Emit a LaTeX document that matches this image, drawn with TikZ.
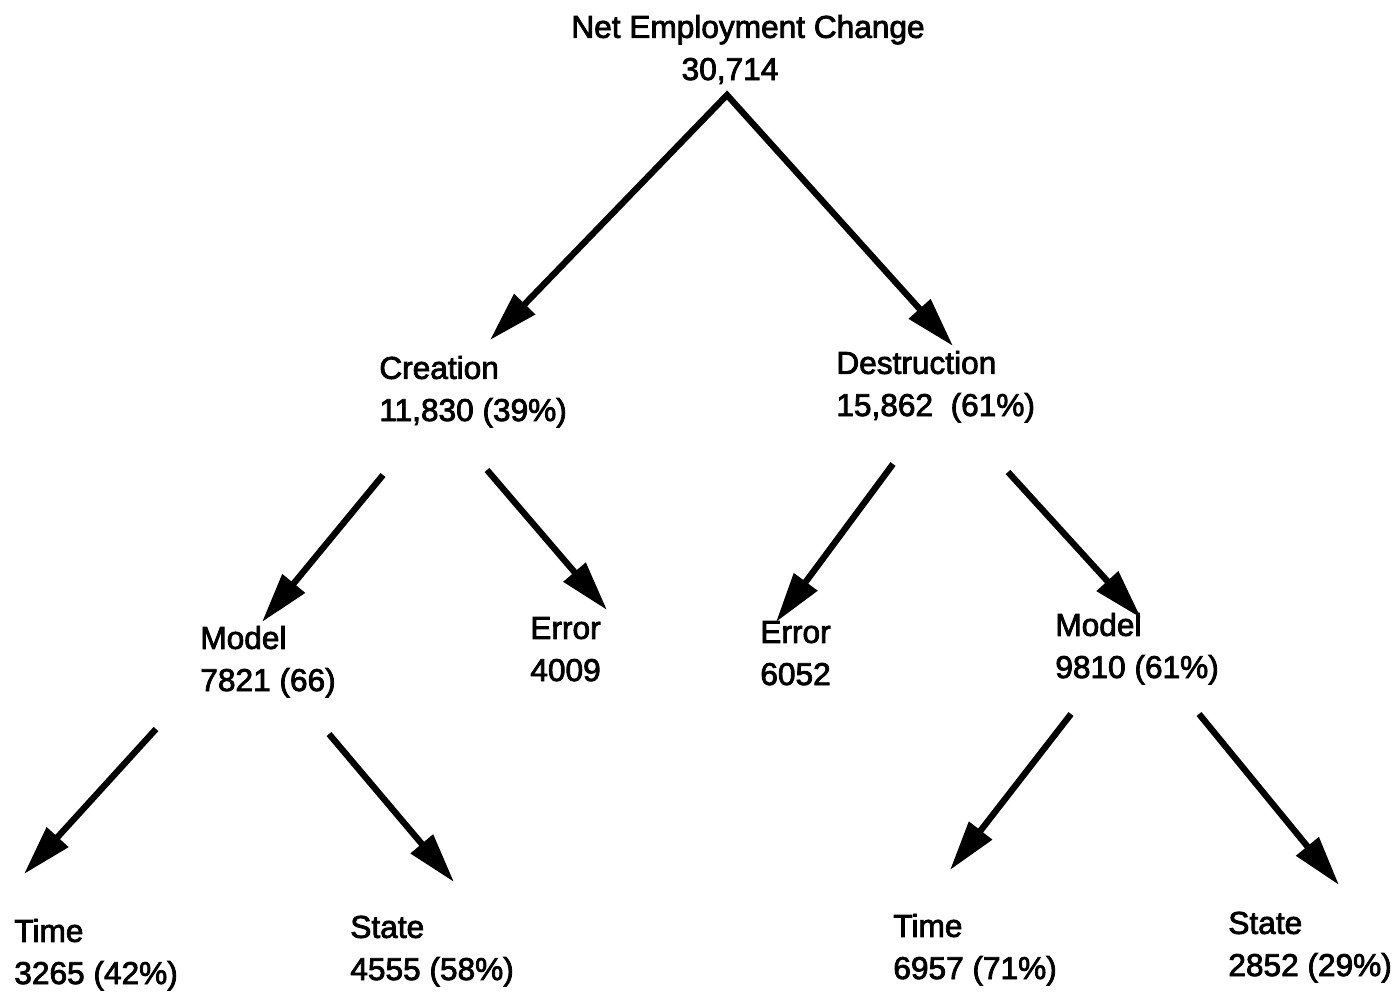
\documentclass[tikz,border=0pt]{standalone}
\usepackage{fontspec}
\setmainfont{Liberation Sans}
\newfontfamily\lblfont{Liberation Sans}[FakeBold=2.5]
\usetikzlibrary{arrows.meta}

\begin{document}
\begin{tikzpicture}[x=0.02cm, y=-0.02cm,
  >={Triangle[length=1cm, width=0.56cm]},
  lbl/.style={anchor=base west, align=left, inner sep=0pt, font=\lblfont\fontsize{18}{24}\selectfont},
  arr/.style={->, line width=3.6pt}]
  \useasboundingbox (0,0) rectangle (1398,992);

  % labels (placed at baseline of second line)
  \node[lbl, anchor=base, align=center] (net) at (748,80) {Net Employment Change\\30,714\hspace*{0.72cm}};
  \node[lbl] (creation) at (379,421) {Creation\\11,830 (39\%)};
  \node[lbl] (destruction) at (836,416) {Destruction\\15,862\ \ (61\%)};
  \node[lbl] (cmodel) at (200,691) {Model\\7821 (66)};
  \node[lbl] (cerror) at (530,681) {Error\\4009};
  \node[lbl] (derror) at (760,685) {Error\\6052};
  \node[lbl] (dmodel) at (1055,678) {Model\\9810 (61\%)};
  \node[lbl] (ctime) at (14,984) {Time\\3265 (42\%)};
  \node[lbl] (cstate) at (350,980) {State\\4555 (58\%)};
  \node[lbl] (dtime) at (893,979) {Time\\6957 (71\%)};
  \node[lbl] (dstate) at (1228,976) {State\\2852 (29\%)};

  % arrow ends
  \coordinate (top) at (727,95);
  \coordinate (cl) at (490,340);  \coordinate (cr) at (953,346);
  \coordinate (c1s) at (383,475); \coordinate (c1e) at (262,622);
  \coordinate (c2s) at (487,470); \coordinate (c2e) at (607,610);
  \coordinate (d1s) at (893,464); \coordinate (d1e) at (776,622);
  \coordinate (d2s) at (1008,472); \coordinate (d2e) at (1141,618);
  \coordinate (m1s) at (156,729); \coordinate (m1e) at (24,874);
  \coordinate (m2s) at (329,734); \coordinate (m2e) at (454,882);
  \coordinate (r1s) at (1071,714); \coordinate (r1e) at (950,870);
  \coordinate (r2s) at (1199,714); \coordinate (r2e) at (1339,885);

  \draw[arr, <->] (cl) -- (top) -- (cr);
  \path[arr]
  (c1s) edge (c1e)
  (c2s) edge (c2e)
  (d1s) edge (d1e)
  (d2s) edge (d2e)
  (m1s) edge (m1e)
  (m2s) edge (m2e)
  (r1s) edge (r1e)
  (r2s) edge (r2e);
\end{tikzpicture}
\end{document}
